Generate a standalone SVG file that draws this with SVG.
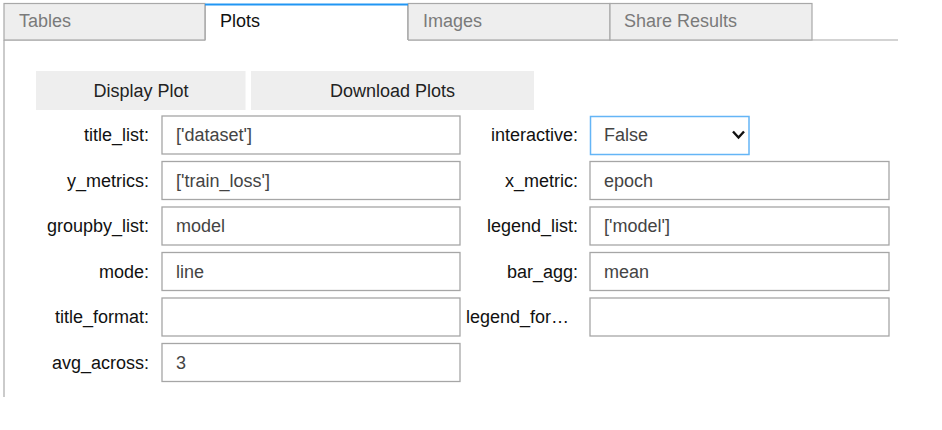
<svg xmlns="http://www.w3.org/2000/svg" width="942" height="430" viewBox="0 0 942 430">
<style>
text{font-family:"Liberation Sans",Arial,sans-serif;font-size:18px}
.tab{fill:#eeeeee;stroke:#a8a8a8;stroke-width:1.2}
.tabt{fill:#7a7a7a}
.btn{fill:#eeeeee}
.btnt{fill:#222;text-anchor:middle}
.inp{fill:#fff;stroke:#a6a6a6;stroke-width:1.3}
.lbl{fill:#111;text-anchor:end}
.val{fill:#444}
</style>
<rect width="942" height="430" fill="#fff"/>
<g id="tabs">
<line x1="4" y1="40" x2="898" y2="40" stroke="#a8a8a8" stroke-width="1.2"/>
<rect class="tab" x="4" y="3.5" width="201" height="36.5"/>
<text class="tabt" x="19" y="27">Tables</text>
<rect class="tab" x="408" y="3.5" width="202" height="36.5"/>
<text class="tabt" x="423" y="27">Images</text>
<rect class="tab" x="610" y="3.5" width="202" height="36.5"/>
<text class="tabt" x="624" y="27">Share Results</text>
<g id="tab-plots">
<rect x="205" y="3.5" width="203" height="37.5" fill="#fff"/>
<path d="M205.3 4 V40.5 M407.7 4 V40" stroke="#a8a8a8" stroke-width="1.2" fill="none"/>
<line x1="205" y1="4.5" x2="408" y2="4.5" stroke="#2196f3" stroke-width="2"/>
<text x="220" y="27" fill="#111">Plots</text>
</g>
</g>
<line x1="4" y1="40" x2="4" y2="397" stroke="#a8a8a8" stroke-width="1.2"/>
<g id="btn-display">
<rect class="btn" x="36" y="71" width="209.5" height="39"/>
<text class="btnt" x="141" y="97">Display Plot</text>
</g>
<g id="btn-download">
<rect class="btn" x="251" y="71" width="283" height="39"/>
<text class="btnt" x="392.5" y="97">Download Plots</text>
</g>
<g id="title_list">
<text class="lbl" x="149" y="141">title_list:</text>
<rect class="inp" x="162" y="116" width="298" height="38"/>
<text class="val" x="176" y="141">['dataset']</text>
</g>
<g id="y_metrics">
<text class="lbl" x="149" y="186.5">y_metrics:</text>
<rect class="inp" x="162" y="161.5" width="298" height="38"/>
<text class="val" x="176" y="186.5">['train_loss']</text>
</g>
<g id="groupby_list">
<text class="lbl" x="149" y="232">groupby_list:</text>
<rect class="inp" x="162" y="207" width="298" height="38"/>
<text class="val" x="176" y="232">model</text>
</g>
<g id="mode">
<text class="lbl" x="149" y="277.5">mode:</text>
<rect class="inp" x="162" y="252.5" width="298" height="38"/>
<text class="val" x="176" y="277.5">line</text>
</g>
<g id="title_format">
<text class="lbl" x="149" y="323">title_format:</text>
<rect class="inp" x="162" y="298" width="298" height="38"/>
</g>
<g id="avg_across">
<text class="lbl" x="149" y="368.5">avg_across:</text>
<rect class="inp" x="162" y="343.5" width="298" height="38"/>
<text class="val" x="176" y="368.5">3</text>
</g>
<g id="interactive">
<text class="lbl" x="578" y="141">interactive:</text>
<rect x="590.5" y="116.5" width="158.5" height="38" fill="#fff" stroke="#64b5f6" stroke-width="1.5"/>
<text class="val" x="604" y="141">False</text>
<polyline points="733,131.5 738.5,137.5 744,131.5" fill="none" stroke="#111" stroke-width="2.4"/>
</g>
<g id="x_metric">
<text class="lbl" x="578" y="186.5">x_metric:</text>
<rect class="inp" x="590" y="161.5" width="299" height="38"/>
<text class="val" x="604" y="186.5">epoch</text>
</g>
<g id="legend_list">
<text class="lbl" x="578" y="232">legend_list:</text>
<rect class="inp" x="590" y="207" width="299" height="38"/>
<text class="val" x="604" y="232">['model']</text>
</g>
<g id="bar_agg">
<text class="lbl" x="578" y="277.5">bar_agg:</text>
<rect class="inp" x="590" y="252.5" width="299" height="38"/>
<text class="val" x="604" y="277.5">mean</text>
</g>
<g id="legend_format">
<text x="466" y="323" fill="#111">legend_for…</text>
<rect class="inp" x="590" y="298" width="299" height="38"/>
</g>
</svg>
